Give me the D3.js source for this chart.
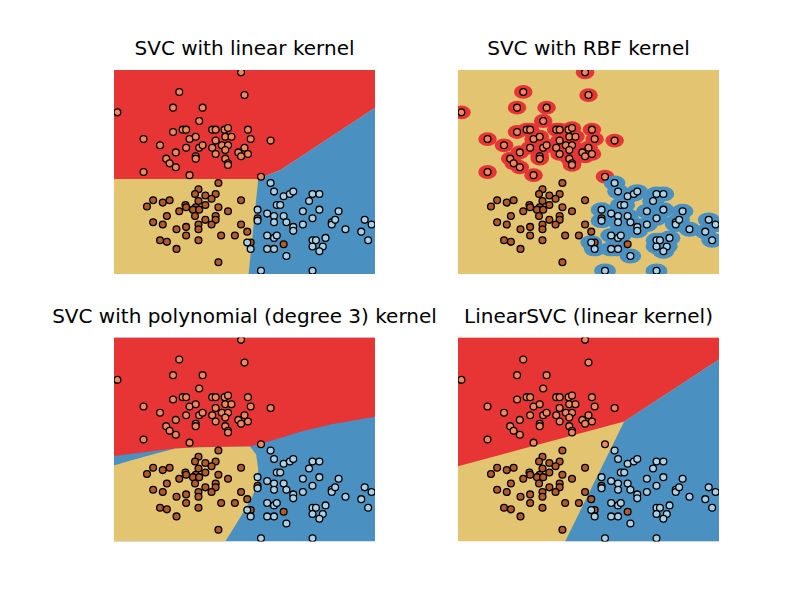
<!DOCTYPE html>
<html><head><meta charset="utf-8">
<script src="https://cdn.jsdelivr.net/npm/d3@7"></script>
<style>body{margin:0;background:#fff}svg{display:block}</style>
</head><body>
<svg id="chart" width="812" height="612"></svg>
<script>
// ---------- data (feature 1 = x, feature 2 = y) ----------
const class0X = [6.05,5.15,6.10,4.25,5.06,5.49,5.44,5.20,5.25,5.63,5.68,5.81,5.86,6.15,4.63,5.06,5.30,5.39,5.82,5.91,5.68,4.87,5.25,5.44,5.49,5.63,5.77,5.86,5.82,6.10,5.10,5.68,6.01,6.05,4.96,5.01,5.39,5.39,5.82,5.86,5.86,5.10,4.63,5.30,6.19,6.48,6.15,6.34];
const class0Y = [4.47,4.22,4.18,3.96,4.02,4.02,3.85,3.74,3.74,3.74,3.74,3.74,3.76,3.74,3.62,3.71,3.62,3.65,3.65,3.65,3.60,3.54,3.51,3.51,3.54,3.51,3.54,3.54,3.48,3.51,3.45,3.43,3.45,3.40,3.37,3.31,3.40,3.37,3.37,3.31,3.29,3.26,3.20,3.16,3.62,3.60,3.43,3.14];
const class1X = [5.72,5.43,5.38,5.53,5.68,5.62,5.43,4.77,4.91,5.01,4.68,5.24,5.25,5.39,5.35,5.44,5.53,5.72,5.15,5.38,4.97,5.86,5.68,5.68,5.53,5.62,5.43,5.43,5.25,5.11,4.77,4.91,6.05,6.05,6.14,5.76,5.96,5.25,5.43,4.87,4.97,5.11,5.72,6.19,6.29,6.67];
const class1Y = [3.06,2.98,2.92,2.90,2.92,2.86,2.83,2.84,2.81,2.84,2.76,2.78,2.75,2.75,2.72,2.72,2.78,2.75,2.70,2.64,2.64,2.70,2.64,2.59,2.59,2.53,2.53,2.47,2.50,2.47,2.56,2.53,2.84,2.53,2.44,2.39,2.39,2.39,2.33,2.33,2.31,2.22,2.05,2.30,2.61,2.28];
const class2X = [6.48,6.53,6.67,6.76,6.81,7.09,7.19,7.04,6.57,6.62,6.29,6.95,7.19,7.47,6.43,6.53,6.67,7.09,6.29,6.53,6.71,6.95,6.81,6.81,7.37,7.37,7.42,7.57,7.85,7.95,7.80,7.90,6.43,6.53,6.57,6.14,7.09,7.14,7.28,7.09,7.24,7.19,6.19,6.43,6.53,6.71,6.34,7.09];
const class2Y = [3.06,2.95,2.89,2.92,2.95,2.92,2.92,2.83,2.78,2.78,2.72,2.70,2.72,2.70,2.67,2.64,2.64,2.61,2.58,2.56,2.56,2.53,2.50,2.45,2.56,2.53,2.59,2.47,2.59,2.53,2.44,2.33,2.39,2.36,2.39,2.30,2.33,2.33,2.36,2.25,2.25,2.19,2.22,2.22,2.22,2.13,1.94,1.94];

const titles = ["SVC with linear kernel","SVC with RBF kernel","SVC with polynomial (degree 3) kernel","LinearSVC (linear kernel)"];
const xDomain = [4.2, 8.0];
const yDomain = [1.9, 4.5];

// decision-region boundaries (polygons in feature units)
const linearRed  = [[4.2,4.5],[8.0,4.5],[8.0,4.02],[6.63,3.23],[6.30,3.11],[4.2,3.11]];
const linearBlue = [[8.0,4.02],[6.63,3.23],[6.30,3.11],[6.16,1.9],[8.0,1.9]];
const polyRed    = [[4.2,4.5],[8.0,4.5],[8.0,3.49],[7.35,3.39],[6.91,3.30],[6.62,3.22],[6.35,3.15],[6.18,3.11],[5.45,3.10],[5.02,3.08],[4.58,3.03],[4.2,2.99]];
const polyYellow = [[4.2,2.87],[4.43,2.93],[4.72,3.00],[5.09,3.085],[5.45,3.10],[6.18,3.11],[6.27,3.01],[6.30,2.82],[6.28,2.63],[6.21,2.46],[6.11,2.31],[5.99,2.14],[5.89,2.00],[5.82,1.9],[4.2,1.9]];
const lsvcRed    = [[4.2,4.5],[8.0,4.5],[8.0,4.22],[6.62,3.43],[4.2,2.86]];
const lsvcBlue   = [[8.0,4.22],[6.62,3.43],[5.76,1.9],[8.0,1.9]];

// ---------- styling ----------
const regionColor = ["#e73434","#e2c471","#4a91c1"];
const pointColor  = ["#f2885a","#b35a28","#a8d0e6"];
const W = 261, H = 204;
const lefts = [114, 458], tops = [70, 337.5];

const points = [];
[[class0X,class0Y],[class1X,class1Y],[class2X,class2Y]].forEach(([xs,ys],k)=>{
  xs.forEach((v,i)=>points.push({x:v,y:ys[i],c:k}));
});

const panels = [
  {title:titles[0], bg:1, polys:[[0,linearRed],[2,linearBlue]]},
  {title:titles[1], bg:1, polys:[], rbf:true},
  {title:titles[2], bg:2, polys:[[0,polyRed],[1,polyYellow]]},
  {title:titles[3], bg:1, polys:[[0,lsvcRed],[2,lsvcBlue]]}
];

const svg = d3.select("#chart");
const x = d3.scaleLinear().domain(xDomain).range([0, W]);
const y = d3.scaleLinear().domain(yDomain).range([H, 0]);
const line = d3.line().x(d=>x(d[0])).y(d=>y(d[1]));

panels.forEach((p,i)=>{
  const col = i%2, row = Math.floor(i/2);
  const g = svg.append("g").attr("transform",`translate(${lefts[col]},${tops[row]})`);
  const cid = "clip"+i;
  g.append("clipPath").attr("id",cid).append("rect").attr("width",W).attr("height",H);
  const reg = g.append("g").attr("clip-path",`url(#${cid})`);
  reg.append("rect").attr("width",W).attr("height",H).attr("fill",regionColor[p.bg]);
  p.polys.forEach(([k,pts])=>{
    reg.append("path").attr("d",line(pts)+"Z").attr("fill",regionColor[k]);
  });
  if (p.rbf) {
    const radii = {0:[0.135,0.088],2:[0.158,0.095]};
    [0,2].forEach(k=>{
      reg.selectAll(null).data(points.filter(d=>d.c===k)).join("ellipse")
        .attr("cx",d=>x(d.x)).attr("cy",d=>y(d.y))
        .attr("rx",d=>x(d.x+radii[k][0])-x(d.x))
        .attr("ry",d=>y(d.y)-y(d.y+radii[k][1]))
        .attr("fill",regionColor[k]);
    });
  }
  g.append("g").attr("clip-path",`url(#${cid})`).selectAll("circle").data(points).join("circle")
    .attr("cx",d=>x(d.x)).attr("cy",d=>y(d.y)).attr("r",3.4)
    .attr("fill",d=>pointColor[d.c]).attr("stroke","#000").attr("stroke-width",1.3);
  g.append("text").attr("x",W/2).attr("y",-15).attr("text-anchor","middle")
    .attr("font-family","DejaVu Sans").attr("font-size",20).attr("fill","#000")
    .text(p.title);
});
</script>
</body></html>
